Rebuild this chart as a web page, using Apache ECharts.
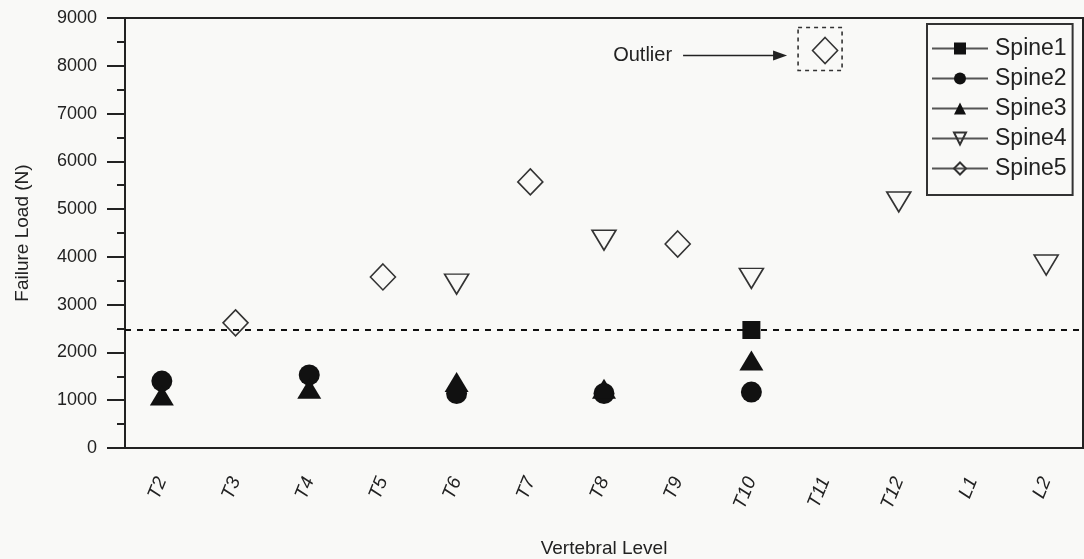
<!DOCTYPE html>
<html>
<head>
<meta charset="utf-8">
<script src="https://cdn.jsdelivr.net/npm/echarts@6/dist/echarts.min.js"></script>
<style>
html,body{margin:0;padding:0;background:#f9f9f7;}
#c{width:1084px;height:559px;}
</style>
</head>
<body>
<div id="c"></div>
<script>
const categories = ['T2','T3','T4','T5','T6','T7','T8','T9','T10','T11','T12','L1','L2'];
const spine1 = [null,null,null,null,null,null,null,null,2470,null,null,null,null];
const spine2 = [1400,null,1530,null,1140,null,1140,null,1170,null,null,null,null];
const spine3 = [1100,null,1240,null,1380,null,1240,null,1830,null,null,null,null];
const spine4 = [null,null,null,null,3430,null,4350,null,3550,null,5150,null,3830];
const spine5 = [null,2620,null,3580,null,5570,null,4270,null,8320,null,null,null];
const thresholdValue = 2470;
const yTicks = {min:0, max:9000, interval:1000};
const outlierCategory = 'T11';
const outlierValue = 8320;

const FONT = 'Liberation Sans, Arial, sans-serif';
const chart = echarts.init(document.getElementById('c'), null, {renderer:'canvas'});

function mkSeries(name, data, symbol, size, filled, rotate) {
  return {
    name: name,
    type: 'line',
    data: data,
    connectNulls: false,
    showSymbol: true,
    showAllSymbol: true,
    symbol: symbol,
    symbolSize: size,
    symbolRotate: rotate || 0,
    lineStyle: {color:'#555', width:1.5},
    itemStyle: filled ? {color:'#111', borderColor:'#111', borderWidth:0}
                      : {color:'rgba(255,255,255,0)', borderColor:'#333', borderWidth:1.6},
    emphasis: {disabled:true},
    animation: false
  };
}

const series = [
  mkSeries('Spine1', spine1, 'rect', 18, true),
  mkSeries('Spine2', spine2, 'circle', 21, true),
  mkSeries('Spine3', spine3, 'triangle', [24,20], true),
  mkSeries('Spine4', spine4, 'triangle', [24,20], false, 180),
  mkSeries('Spine5', spine5, 'diamond', [25,26], false)
];
series[0].markLine = {
  silent: true,
  symbol: ['none','none'],
  label: {show:false},
  lineStyle: {color:'#111', width:2, type:[6,6]},
  data: [{yAxis: thresholdValue}],
  animation: false
};

chart.setOption({
  backgroundColor: '#f9f9f7',
  animation: false,
  textStyle: {fontFamily: FONT, color:'#222'},
  grid: {left:125, right:1, top:18, bottom:111, show:true, borderColor:'#222', borderWidth:2,
         backgroundColor:'transparent', containLabel:false, outerBoundsMode:'none'},
  legend: {
    orient: 'vertical',
    left: 927,
    top: 24,
    itemWidth: 56,
    itemHeight: 15,
    itemGap: 7,
    padding: [13, 6, 15, 4],
    borderColor: '#333',
    borderWidth: 2,
    textStyle: {fontSize: 23, color:'#222', fontFamily: FONT, padding:[0,0,0,2]},
    data: ['Spine1','Spine2','Spine3','Spine4','Spine5']
  },
  xAxis: {
    type: 'category',
    data: categories,
    boundaryGap: true,
    name: 'Vertebral Level',
    nameLocation: 'middle',
    nameGap: 91,
    nameTextStyle: {fontSize: 19, color:'#222'},
    axisLine: {lineStyle:{color:'#222', width:2}},
    axisTick: {alignWithLabel:true, length:14, lineStyle:{color:'#222', width:2}},
    axisLabel: {rotate:68, fontSize:19, fontStyle:'italic', color:'#222', margin:30},
    splitLine: {show:false}
  },
  yAxis: {
    type: 'value',
    min: yTicks.min,
    max: yTicks.max,
    interval: yTicks.interval,
    name: 'Failure Load (N)',
    nameLocation: 'middle',
    nameGap: 93,
    nameRotate: 90,
    nameTextStyle: {fontSize: 19, color:'#222'},
    axisLine: {show:true, lineStyle:{color:'#222', width:2}},
    axisTick: {show:true, length:18, lineStyle:{color:'#222', width:2}},
    minorTick: {show:true, splitNumber:2, length:8, lineStyle:{color:'#222', width:2}},
    axisLabel: {fontSize:18, color:'#222', margin:28, formatter: function(v){ return String(v); }},
    splitLine: {show:false}
  },
  series: series
});

const p = chart.convertToPixel({seriesIndex:4}, [outlierCategory, outlierValue]);
const px = p[0], py = p[1];
chart.setOption({
  graphic: [
    {type:'rect', shape:{x:px-27, y:py-23, width:44, height:43},
     style:{fill:'none', stroke:'#333', lineWidth:1.6, lineDash:[4,4]}, silent:true},
    {type:'line', shape:{x1:px-142, y1:py+5, x2:px-48, y2:py+5},
     style:{stroke:'#222', lineWidth:1.5}, silent:true},
    {type:'polygon', shape:{points:[[px-38,py+5],[px-52,py],[px-52,py+10]]},
     style:{fill:'#222'}, silent:true},
    {type:'text', x:px-153, y:py+5,
     style:{text:'Outlier', fontSize:20, fontFamily:FONT, fill:'#222', align:'right', verticalAlign:'middle'}, silent:true}
  ]
});
</script>
</body>
</html>
